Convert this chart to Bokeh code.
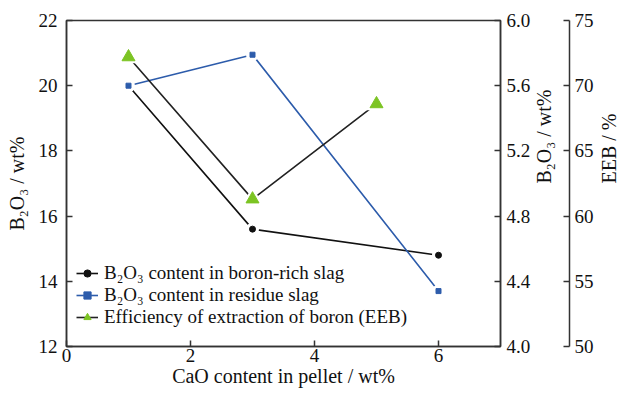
import math
from bokeh.plotting import figure
from bokeh.models import Range1d, LinearAxis, FixedTicker, PrintfTickFormatter, Legend, LegendItem
from bokeh.embed import file_html
from bokeh.resources import INLINE

# data
x_rich = [1, 3, 6]
b2o3_rich = [20.0, 15.6, 14.8]
x_residue = [1, 3, 6]
b2o3_residue = [5.6, 5.79, 4.34]
x_eeb = [1, 3, 5]
eeb = [72.2, 61.3, 68.6]

x_ticks = [0, 2, 4, 6]
left_ticks = [12, 14, 16, 18, 20, 22]
right_ticks = [4.0, 4.4, 4.8, 5.2, 5.6, 6.0]
eeb_ticks = [50, 55, 60, 65, 70, 75]

FONT = "Times New Roman"
TICK_FS = "19px"
TITLE_FS = "20px"
AX = "#333333"
BLACK = "#111111"
BLUE = "#2d5cab"
GREEN = "#7cc423"

p = figure(width=633, height=394, output_backend="svg", toolbar_location=None,
           x_range=Range1d(0, 7), y_range=Range1d(12, 22),
           min_border_left=66, min_border_right=131, min_border_top=20, min_border_bottom=48)
p.extra_y_ranges = {"res": Range1d(4, 6), "eeb": Range1d(50, 75)}
p.xgrid.visible = False
p.ygrid.visible = False
p.outline_line_color = AX
p.outline_line_width = 1.5
p.background_fill_color = "white"
p.border_fill_color = "white"


def style_axis(ax, ticks):
    ax.ticker = FixedTicker(ticks=ticks)
    ax.axis_line_color = AX
    ax.axis_line_width = 1.5
    ax.major_tick_line_color = AX
    ax.major_tick_line_width = 1.5
    ax.major_tick_in = 6
    ax.major_tick_out = 0
    ax.minor_tick_line_color = None
    ax.major_label_text_font = FONT
    ax.major_label_text_font_size = TICK_FS
    ax.major_label_text_color = BLACK
    ax.axis_label_text_font = FONT
    ax.axis_label_text_font_size = TITLE_FS
    ax.axis_label_text_font_style = "normal"
    ax.axis_label_text_color = BLACK


xa = p.xaxis[0]
style_axis(xa, x_ticks)
xa.axis_label = "CaO content in pellet / wt%"
xa.major_label_standoff = 2
xa.axis_label_standoff = 0

ya = p.yaxis[0]
style_axis(ya, left_ticks)
ya.axis_label = "B₂O₃ / wt%"
ya.major_label_standoff = 9
ya.axis_label_standoff = 8

ra = LinearAxis(y_range_name="res")
style_axis(ra, right_ticks)
ra.formatter = PrintfTickFormatter(format="%.1f")
ra.axis_label = "B₂O₃ / wt%"
ra.axis_label_orientation = math.pi / 2
ra.axis_label_text_line_height = 0.7
ra.major_label_standoff = 6
ra.axis_label_standoff = 11
p.add_layout(ra, "right")

spacer = LinearAxis(y_range_name="eeb", ticker=FixedTicker(ticks=[]))
spacer.axis_line_color = None
spacer.major_tick_line_color = None
spacer.minor_tick_line_color = None
spacer.major_tick_in = 0
spacer.major_tick_out = 23
spacer.major_label_standoff = 0
p.add_layout(spacer, "right")

ea = LinearAxis(y_range_name="eeb")
style_axis(ea, eeb_ticks)
ea.axis_label = "EEB / %"
ea.axis_label_orientation = math.pi / 2
ea.axis_label_text_line_height = 0.5
ea.major_label_standoff = 5
ea.axis_label_standoff = 12
p.add_layout(ea, "right")

# series
l1 = p.line(x_rich, b2o3_rich, line_color=BLACK, line_width=1.6)
w1 = p.scatter(x_rich, b2o3_rich, marker="circle", size=13, fill_color="white", line_color=None)
m1 = p.scatter(x_rich, b2o3_rich, marker="circle", size=6, fill_color=BLACK, line_color=BLACK)

l2 = p.line(x_residue, b2o3_residue, line_color=BLUE, line_width=1.6, y_range_name="res")
w2 = p.scatter(x_residue, b2o3_residue, marker="circle", size=13, fill_color="white", line_color=None, y_range_name="res")
m2 = p.scatter(x_residue, b2o3_residue, marker="square", size=5, fill_color=BLUE, line_color=BLUE, y_range_name="res")

l3 = p.line(x_eeb, eeb, line_color="#222222", line_width=1.6, y_range_name="eeb")
w3 = p.scatter(x_eeb, eeb, marker="triangle", size=22, fill_color="white", line_color=None, y_range_name="eeb")
m3 = p.scatter(x_eeb, eeb, marker="triangle", size=13, fill_color=GREEN, line_color=GREEN, y_range_name="eeb")

legend = Legend(items=[
    LegendItem(label="B₂O₃ content in boron-rich slag", renderers=[l1, w1, m1]),
    LegendItem(label="B₂O₃ content in residue slag", renderers=[l2, w2, m2]),
    LegendItem(label="Efficiency of extraction of boron (EEB)", renderers=[l3, w3, m3]),
], location=(4, 12))
legend.background_fill_alpha = 0
legend.border_line_alpha = 0
legend.label_text_font = FONT
legend.label_text_font_size = "19px"
legend.label_text_color = BLACK
legend.glyph_width = 22
legend.glyph_height = 18
legend.label_height = 18
legend.spacing = 0
legend.padding = 6
legend.margin = 0
legend.label_standoff = 6
p.add_layout(legend, "center")

open("out.html", "w").write(file_html(p, INLINE))
